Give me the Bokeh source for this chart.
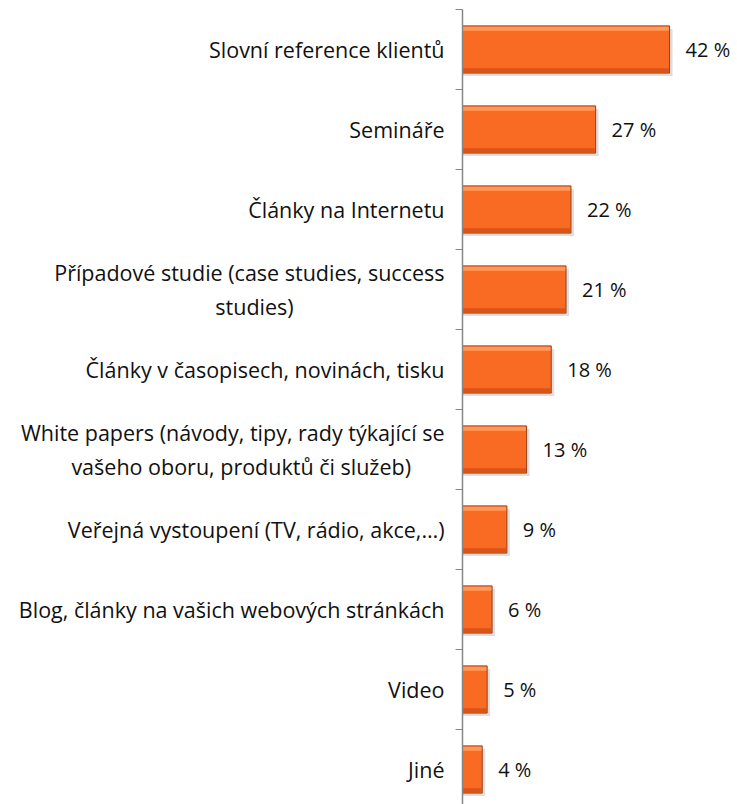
from bokeh.plotting import figure
from bokeh.models import Range1d, FixedTicker, ColumnDataSource
from bokeh.core.properties import value
from bokeh.transform import dodge
from bokeh.embed import file_html
from bokeh.resources import INLINE

NB = "\u00a0"
categories = [
    "Slovní reference klientů",
    "Semináře",
    "Články na Internetu",
    "Případové studie (case studies, success\nstudies)" + NB * 27,
    "Články v časopisech, novinách, tisku",
    "White papers (návody, tipy, rady týkající se\nvašeho oboru, produktů či služeb)" + NB * 6,
    "Veřejná vystoupení (TV, rádio, akce,…)",
    "Blog, články na vašich webových stránkách",
    "Video",
    "Jiné",
]
values = [42, 27, 22, 21, 18, 13, 9, 6, 5, 4]
value_labels = [f"{v} %" for v in values]

positions = list(range(len(categories)))
src = ColumnDataSource(dict(y=positions, v=values, lbl=value_labels))

FONT = "Open Sans"
W, H = 737, 804
LEFT = 462
TOP = 9
px_per_unit_y = 80.0
frame_h = H - TOP
y_top = -0.5
y_bottom = y_top + frame_h / px_per_unit_y
px_per_pct = 4.93
frame_w = W - LEFT
x_end = frame_w / px_per_pct

p = figure(width=W, height=H, output_backend="svg", toolbar_location=None,
           x_range=Range1d(0, x_end), y_range=Range1d(y_bottom, y_top),
           min_border_left=LEFT, min_border_top=TOP, min_border_bottom=0,
           min_border_right=0)
p.outline_line_color = None
p.xgrid.visible = False
p.ygrid.visible = False
p.xaxis.visible = False
p.background_fill_color = "white"
p.border_fill_color = "white"

BAR_H = 0.59
shadow_dx = 3 / px_per_pct
p.hbar(y=dodge("y", 3 / px_per_unit_y), right=dodge("v", shadow_dx), left=0,
       height=BAR_H, source=src, fill_color="#c8c8c8", fill_alpha=0.6, line_color=None)
p.hbar(y="y", right="v", left=0, height=BAR_H, source=src,
       fill_color="#F96A22", line_color="#9A3F12", line_width=1)
p.hbar(y=dodge("y", -BAR_H / 2 + 0.035), right=dodge("v", -0.15), left=0.1,
       height=0.05, source=src, fill_color="#FF9A5E", line_color=None)
p.hbar(y=dodge("y", BAR_H / 2 - 0.035), right=dodge("v", -0.15), left=0.1,
       height=0.05, source=src, fill_color="#D9561A", line_color=None)

p.text(x="v", y="y", text="lbl", source=src, x_offset=16,
       text_align="left", text_baseline="middle",
       text_font=value(FONT), text_font_size="20px", text_color="#111111")

ax = p.yaxis[0]
ax.ticker = FixedTicker(ticks=positions, minor_ticks=[i - 0.5 for i in range(len(categories) + 1)])
ax.major_label_overrides = {i: c for i, c in enumerate(categories)}
ax.major_tick_out = 0
ax.major_tick_in = 0
ax.minor_tick_out = 7
ax.minor_tick_in = 0
ax.minor_tick_line_color = "#868686"
ax.axis_line_color = "#868686"
ax.axis_line_width = 1.5
ax.major_label_standoff = 11
ax.major_label_text_font = FONT
ax.major_label_text_font_size = "21.5px"
ax.major_label_text_color = "#111111"

open("out.html", "w").write(file_html(p, INLINE))
